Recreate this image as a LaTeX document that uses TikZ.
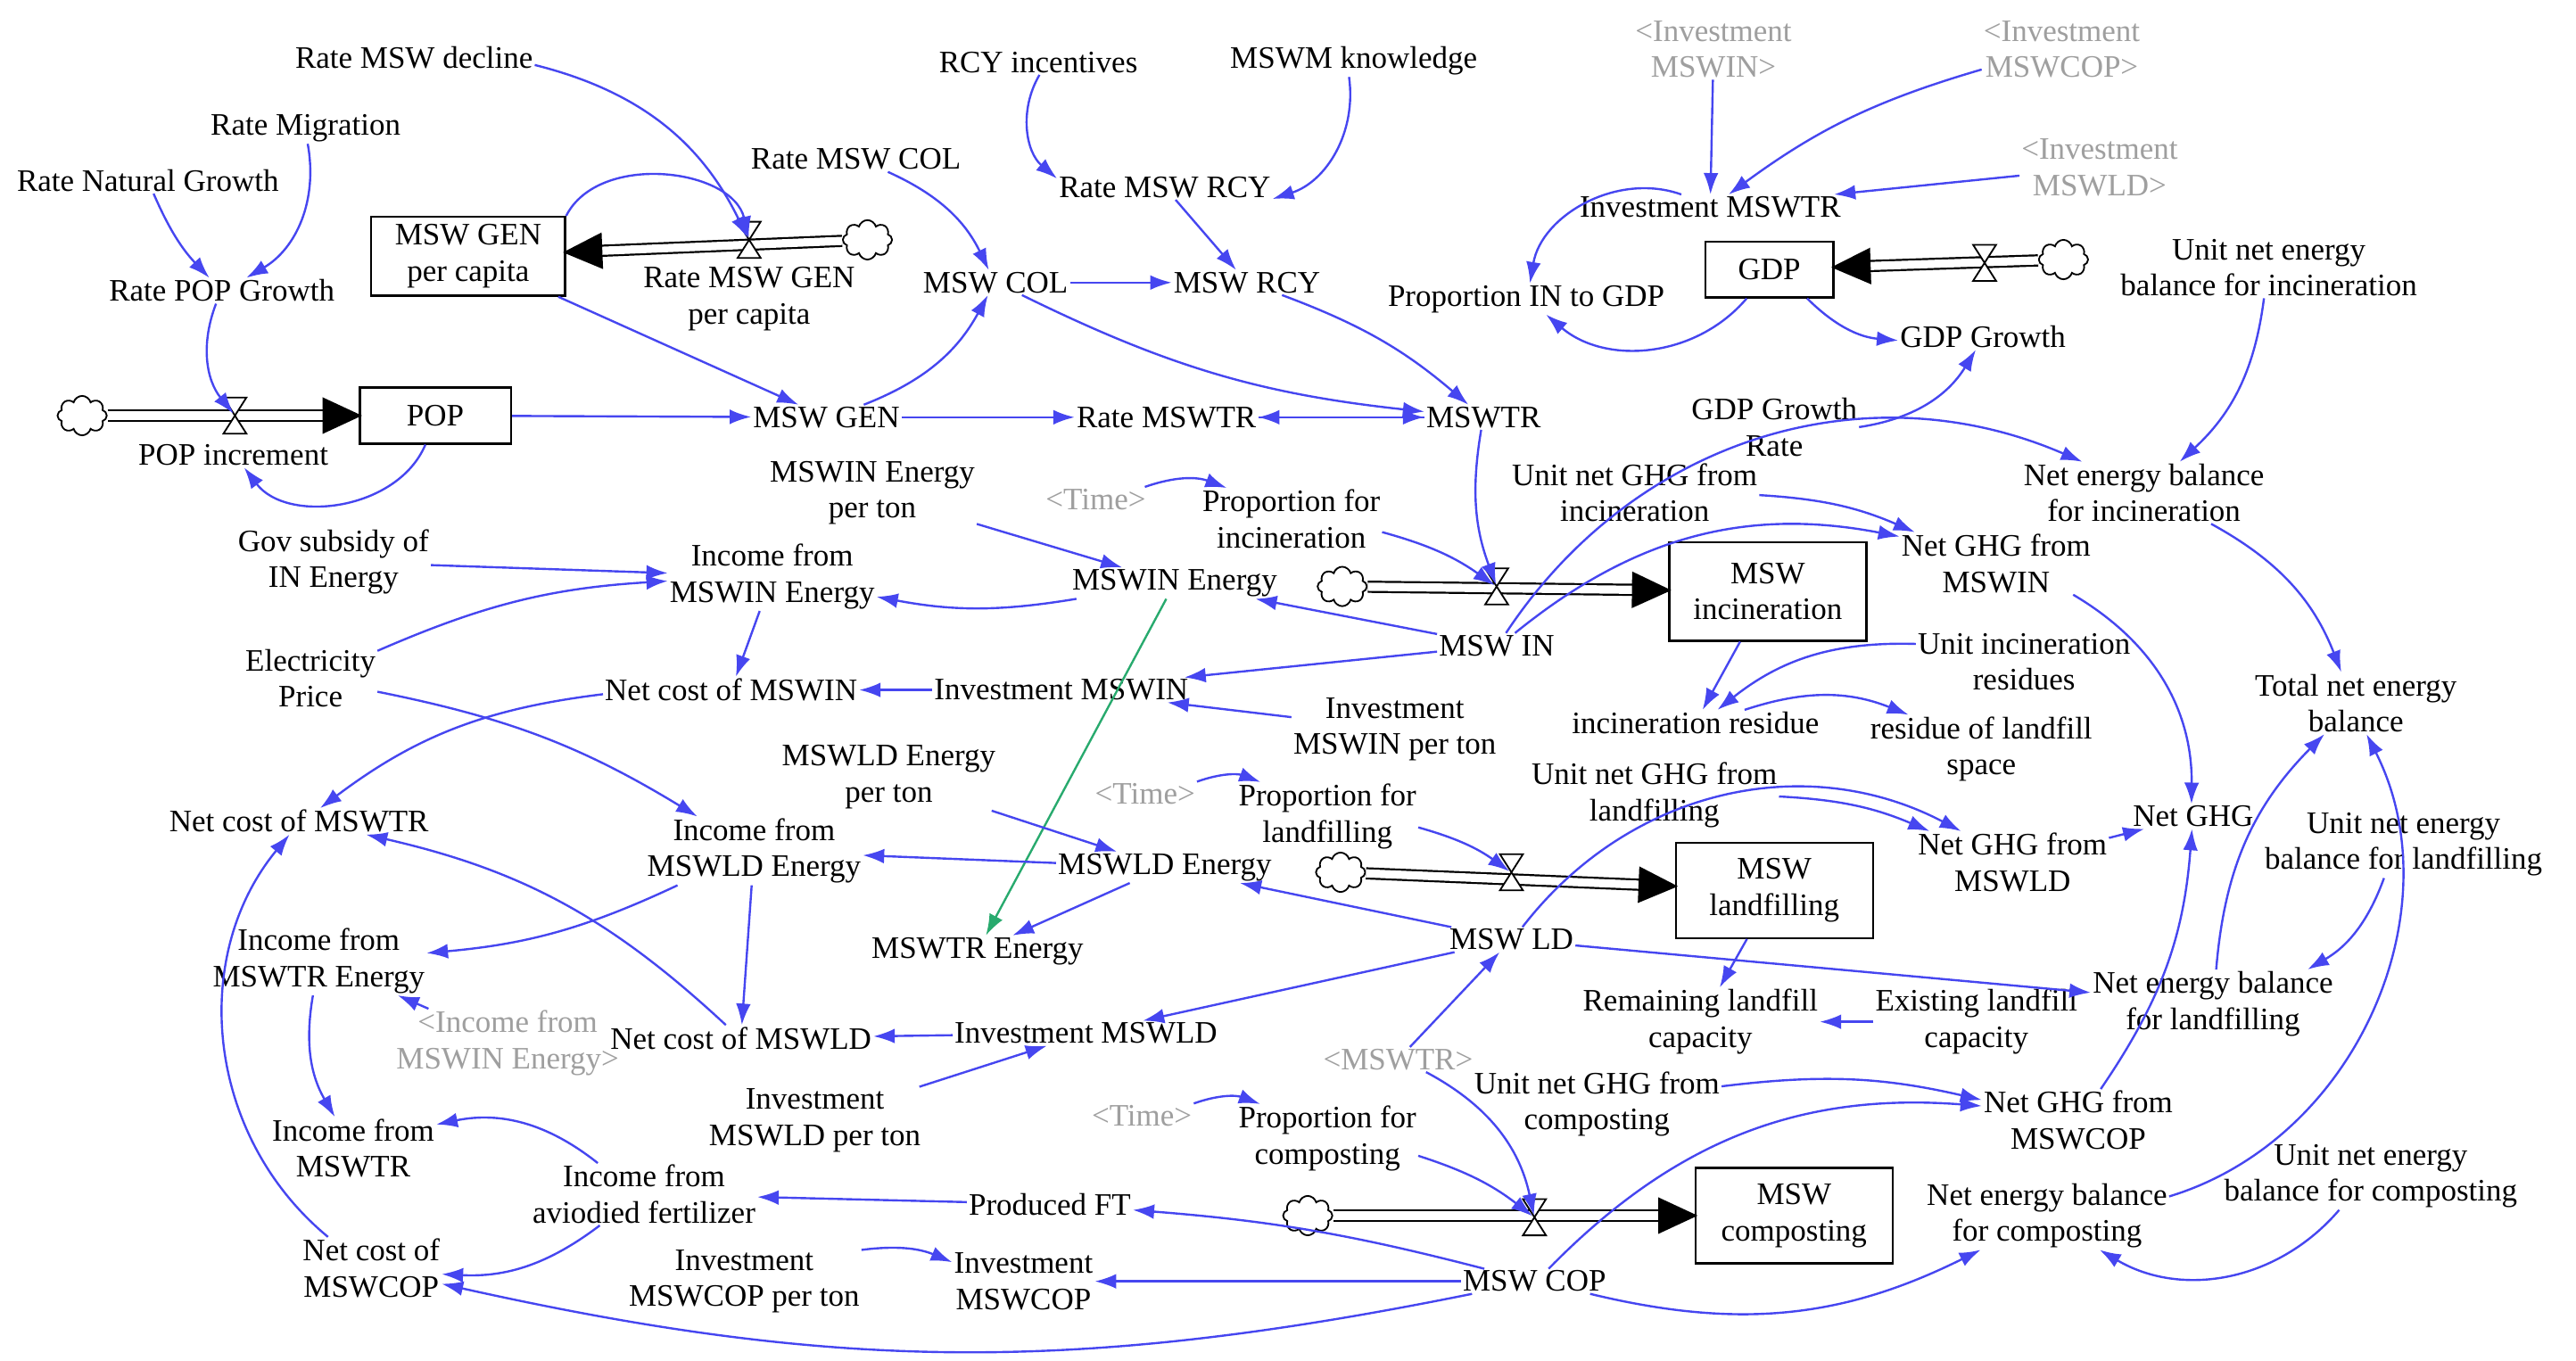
\documentclass[tikz,border=0pt]{standalone}
\usepackage{fontspec}
\setmainfont{Liberation Serif}
\usetikzlibrary{arrows.meta,shapes.symbols}
\definecolor{lb}{RGB}{70,70,240}
\definecolor{gr}{RGB}{40,170,110}
\begin{document}
\begin{tikzpicture}[x=1pt,y=-1pt,
 v/.style={font=\fontsize{19}{22}\selectfont,align=center,inner sep=1pt},
 g/.style={v,text=gray!75},
 box/.style={v,draw,line width=1.3pt,minimum height=34pt},
 lk/.style={draw=lb,line width=1.3pt,-{Latex[length=13pt,width=9pt]}},
 pipe/.style={double=white,double distance=5pt,line width=1.2pt,-{Triangle[length=24pt,width=22pt]},shorten >=-2pt},
 cl/.style={cloud,cloud puffs=8,draw,line width=1pt,minimum width=30pt,minimum height=24pt,inner sep=0pt,fill=white},
 valve/.style={inner sep=0pt,minimum size=2pt}]
\useasboundingbox[fill=white] (0,0) rectangle (1568,828);
% stocks
\node[box,minimum width=118pt,minimum height=48pt] (gpc) at (285,156) {MSW GEN\\per capita};
\node[box,minimum width=92pt] (pop) at (265,253) {POP};
\node[box,minimum width=78pt] (gdp) at (1077,164) {GDP};
\node[box,minimum width=120pt,minimum height=60pt] (sin) at (1076,360) {MSW\\incineration};
\node[box,minimum width=120pt,minimum height=58pt] (sld) at (1080,542) {MSW\\landfilling};
\node[box,minimum width=120pt,minimum height=58pt] (scp) at (1092,740) {MSW\\composting};
% clouds
\node[cl] (c1) at (528,146) {};
\node[cl] (c2) at (50,253) {};
\node[cl] (c3) at (1256,158) {};
\node[cl] (c4) at (817,357) {};
\node[cl] (c5) at (816,531) {};
\node[cl] (c6) at (796,740) {};
% pipes
\draw[pipe] (c1) -- (gpc);
\draw[pipe] (c2) -- (pop);
\draw[pipe] (c3) -- (gdp);
\draw[pipe] (c4) -- (sin);
\draw[pipe] (c5) -- (sld);
\draw[pipe] (c6) -- (scp);
% valves
\foreach \n/\x/\y in {v1/456/146,v2/143/253,v3/1208/160,v4/911/357,v5/920/531,v6/934/741}{
 \node[valve] (\n) at (\x,\y) {};
 \draw[line width=1pt,fill=white] (\x-7,\y-11)--(\x+7,\y-11)--(\x-7,\y+11)--(\x+7,\y+11)--cycle;}
% variables
\node[v] (rmd) at (252,35) {Rate MSW decline};
\node[v] (rmi) at (186,78) {Rate Migration};
\node[v] (rng) at (90,110) {Rate Natural Growth};
\node[v] (rpg) at (135,177) {Rate POP Growth};
\node[v] (rcy) at (632,38) {RCY incentives};
\node[v] (mk) at (824,37) {MSWM knowledge};
\node[v] (rcol) at (521,97) {Rate MSW COL};
\node[v] (rrcy) at (709,114) {Rate MSW RCY};
\node[v] (col) at (606,172) {MSW COL};
\node[v] (mrcy) at (759,172) {MSW RCY};
\node[v] (rgpc) at (456,182) {Rate MSW GEN\\per capita};
\node[v] (gen) at (503,254) {MSW GEN};
\node[v] (rtr) at (710,254) {Rate MSWTR};
\node[v] (tr) at (903,254) {MSWTR};
\node[v] (popi) at (142,277) {POP increment};
\node[g] (gin) at (1043,30) {<Investment\\MSWIN>};
\node[g] (gcop) at (1255,30) {<Investment\\MSWCOP>};
\node[g] (gld) at (1278,102) {<Investment\\MSWLD>};
\node[v] (itr) at (1041,126) {Investment MSWTR};
\node[v] (pgdp) at (929,182) {Proportion IN to GDP};
\node[v] (uein) at (1381,163) {Unit net energy\\balance for incineration};
\node[v] (gg) at (1207,205) {GDP Growth};
\node[v] (ggr) at (1080,260) {GDP Growth\\Rate};
\node[v] (ughin) at (995,300) {Unit net GHG from\\incineration};
\node[v] (nein) at (1305,300) {Net energy balance\\for incineration};
\node[v] (nghin) at (1215,343) {Net GHG from\\MSWIN};
\node[v] (einpt) at (531,300) {MSWIN Energy\\per ton};
\node[g] (t1) at (667,304) {<Time>};
\node[v] (pin) at (786,316) {Proportion for\\incineration};
\node[v] (gov) at (203,342) {Gov subsidy of\\IN Energy};
\node[v] (iine) at (470,351) {Income from\\MSWIN Energy};
\node[v] (ein) at (715,355) {MSWIN Energy};
\node[v] (ep) at (189,413) {Electricity\\Price};
\node[v] (min) at (911,393) {MSW IN};
\node[v] (uir) at (1232,403) {Unit incineration\\residues};
\node[v] (ncin) at (445,420) {Net cost of MSWIN};
\node[v] (iin) at (646,420) {Investment MSWIN};
\node[v] (tne) at (1434,428) {Total net energy\\balance};
\node[v] (iinpt) at (849,444) {Investment\\MSWIN per ton};
\node[v] (ir) at (1032,440) {incineration residue};
\node[v] (rls) at (1206,456) {residue of landfill\\space};
\node[v] (eldpt) at (541,473) {MSWLD Energy\\per ton};
\node[g] (t2) at (697,483) {<Time>};
\node[v] (pld) at (808,497) {Proportion for\\landfilling};
\node[v] (ughld) at (1007,484) {Unit net GHG from\\landfilling};
\node[v] (nctr) at (182,500) {Net cost of MSWTR};
\node[v] (ilde) at (459,518) {Income from\\MSWLD Energy};
\node[v] (ngh) at (1335,497) {Net GHG};
\node[v] (ueld) at (1463,514) {Unit net energy\\balance for landfilling};
\node[v] (nghld) at (1225,525) {Net GHG from\\MSWLD};
\node[v] (eld) at (709,528) {MSWLD Energy};
\node[v] (etr) at (595,579) {MSWTR Energy};
\node[v] (mld) at (920,572) {MSW LD};
\node[v] (itre) at (194,585) {Income from\\MSWTR Energy};
\node[v] (neld) at (1347,611) {Net energy balance\\for landfilling};
\node[v] (rlc) at (1035,622) {Remaining landfill\\capacity};
\node[v] (elc) at (1203,622) {Existing landfill\\capacity};
\node[g] (giine) at (309,635) {<Income from\\MSWIN Energy>};
\node[v] (ncld) at (451,632) {Net cost of MSWLD};
\node[v] (ild) at (661,629) {Investment MSWLD};
\node[g] (gtr) at (851,645) {<MSWTR>};
\node[v] (ughcp) at (972,672) {Unit net GHG from\\composting};
\node[v] (nghcp) at (1265,682) {Net GHG from\\MSWCOP};
\node[v] (ildpt) at (496,682) {Investment\\MSWLD per ton};
\node[g] (t3) at (695,679) {<Time>};
\node[v] (pcp) at (808,693) {Proportion for\\composting};
\node[v] (itri) at (215,699) {Income from\\MSWTR};
\node[v] (iaf) at (392,727) {Income from\\aviodied fertilizer};
\node[v] (uecp) at (1443,716) {Unit net energy\\balance for composting};
\node[v] (necp) at (1246,740) {Net energy balance\\for composting};
\node[v] (pft) at (639,733) {Produced FT};
\node[v] (nccp) at (226,772) {Net cost of\\MSWCOP};
\node[v] (icppt) at (453,780) {Investment\\MSWCOP per ton};
\node[v] (icp) at (623,780) {Investment\\MSWCOP};
\node[v] (mcp) at (934,780) {MSW COP};
% links
\path[lk] (rmd) to[bend left=25] (v1);
\path[lk] (rmi) to[bend left=35] (rpg);
\path[lk] (rng) to[bend right=10] (rpg);
\path[lk] (rpg) to[bend right=30] (v2);
\path[lk] (pop) to[bend left=60] (popi);
\path[lk] (gpc.north east) to[bend left=70] (v1);
\path[lk] (gpc) -- (gen);
\path[lk] (pop) -- (gen);
\path[lk] (rcol) to[bend left=20] (col);
\path[lk] (gen) to[bend right=20] (col);
\path[lk] (col) -- (mrcy);
\path[lk] (rcy) to[bend right=40] (rrcy);
\path[lk] (mk) to[bend left=40] (rrcy);
\path[lk] (rrcy) -- (mrcy);
\path[lk] (mrcy) to[bend left=10] (tr);
\path[lk] (col) to[bend right=10] (tr);
\path[lk] (gen) -- (rtr);
\path[lk] (tr) -- (rtr);
\path[lk] (rtr) -- (tr);
\path[lk] (tr) to[bend right=15] (v4);
\path[lk] (gin) -- (itr);
\path[lk] (gcop) to[bend right=10] (itr);
\path[lk] (gld) -- (itr);
\path[lk] (itr) to[bend right=50] (pgdp);
\path[lk] (gdp) to[bend left=45] (pgdp);
\path[lk] (gdp) to[bend right=20] (gg);
\path[lk] (ggr.east) to[bend right=25] (gg);
\path[lk] (uein) to[bend left=20] (nein);
\path[lk] (min) to[bend left=40] (nein);
\path[lk] (nein) to[bend left=20] (tne);
\path[lk] (ughin) to[bend left=10] (nghin);
\path[lk] (min) to[bend left=25] (nghin);
\path[lk] (nghin) to[bend left=30] (ngh);
\path[lk] (t1) to[bend left=20] (pin);
\path[lk] (pin) to[bend left=10] (v4);
\path[lk] (einpt) -- (ein);
\path[lk] (min) -- (ein);
\path[lk] (ein) to[bend left=10] (iine);
\path[lk] (gov) -- (iine);
\path[lk] (ep) to[bend left=10] (iine);
\path[lk] (ep) to[bend left=10] (ilde);
\draw[gr,line width=1.3pt,-{Latex[length=13pt,width=9pt]}] (ein) -- (etr);
\path[lk] (min) -- (iin);
\path[lk] (iinpt) -- (iin);
\path[lk] (iin) -- (ncin);
\path[lk] (iine) -- (ncin);
\path[lk] (ncin) to[bend right=15] (nctr);
\path[lk] (sin) -- (ir);
\path[lk] (uir) to[bend right=20] (ir);
\path[lk] (ir) to[bend left=20] (rls);
\path[lk] (mld) to[bend left=40] (nghld);
\path[lk] (ughld) to[bend left=10] (nghld);
\path[lk] (nghld) -- (ngh);
\path[lk] (t2) to[bend left=20] (pld);
\path[lk] (pld) to[bend left=10] (v5);
\path[lk] (eldpt) -- (eld);
\path[lk] (mld) -- (eld);
\path[lk] (eld) -- (ilde);
\path[lk] (eld) -- (etr);
\path[lk] (ilde) -- (ncld);
\path[lk] (ncld) to[bend right=15] (nctr);
\path[lk] (ild) -- (ncld);
\path[lk] (mld) -- (ild);
\path[lk] (ildpt) -- (ild);
\path[lk] (mld) -- (neld);
\path[lk] (ueld) to[bend left=20] (neld);
\path[lk] (neld) to[bend left=20] (tne);
\path[lk] (sld) -- (rlc);
\path[lk] (elc) -- (rlc);
\path[lk] (ilde) to[bend left=10] (itre);
\path[lk] (giine) -- (itre);
\path[lk] (itre) to[bend right=20] (itri);
\path[lk] (iaf) to[bend right=25] (itri);
\path[lk] (iaf) to[bend left=20] (nccp);
\path[lk] (pft) -- (iaf);
\path[lk] (mcp) to[bend right=5] (pft);
\path[lk] (mcp) -- (icp);
\path[lk] (icppt) to[bend left=15] (icp);
\path[lk] (mcp) to[bend left=12] (nccp);
\path[lk] (nccp) to[bend left=45] (nctr);
\path[lk] (gtr) to[bend left=25] (v6);
\path[lk] (t3) to[bend left=20] (pcp);
\path[lk] (pcp) to[bend left=10] (v6);
\path[lk] (gtr) -- (mld);
\path[lk] (mcp) to[bend left=25] (nghcp);
\path[lk] (ughcp) to[bend left=10] (nghcp);
\path[lk] (nghcp) to[bend right=15] (ngh);
\path[lk] (mcp) to[bend right=20] (necp);
\path[lk] (uecp) to[bend left=40] (necp);
\path[lk] (necp) to[bend right=50] (tne);
\end{tikzpicture}
\end{document}
